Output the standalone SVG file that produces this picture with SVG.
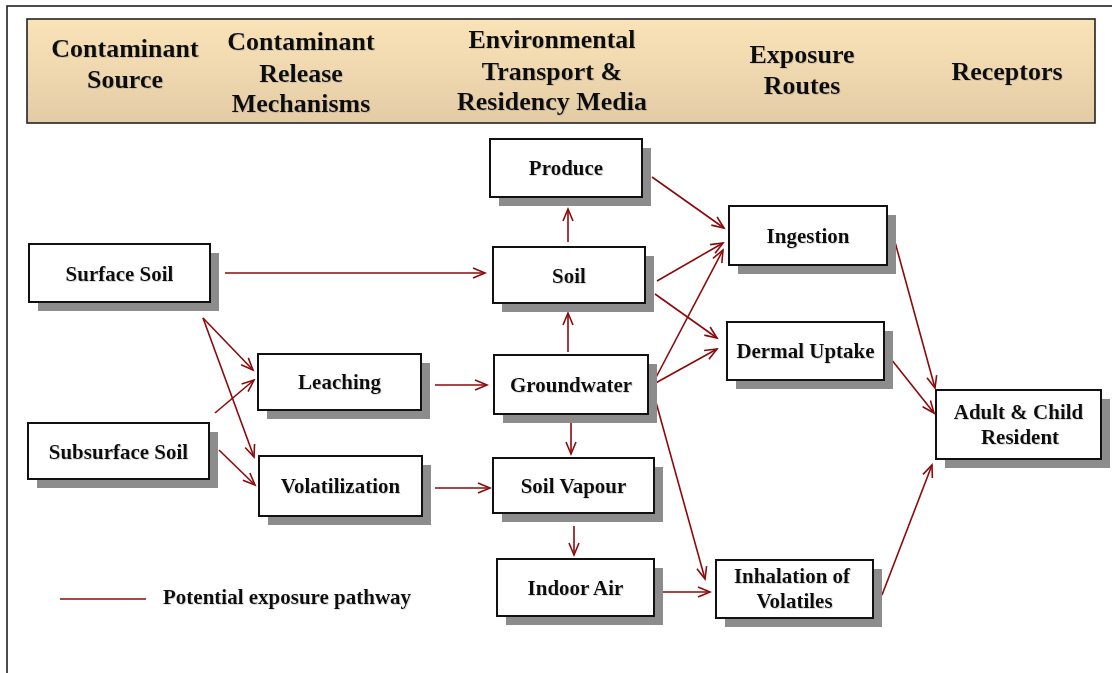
<svg xmlns="http://www.w3.org/2000/svg" width="1112" height="673" viewBox="0 0 1112 673">
  <defs>
    <linearGradient id="hdrFill" x1="0" y1="0" x2="0" y2="1">
      <stop offset="0" stop-color="#fbe3b8"/>
      <stop offset="1" stop-color="#e3cba6"/>
    </linearGradient>
    <filter id="txtShadow" x="-5%" y="-20%" width="110%" height="140%">
      <feDropShadow dx="1" dy="1" stdDeviation="0.3" flood-color="#888" flood-opacity="0.3"/>
    </filter>
    <marker id="arrow" markerUnits="userSpaceOnUse" markerWidth="16" markerHeight="14" refX="13" refY="6" orient="auto">
      <path d="M1,1 L13,6 L1,11" fill="none" stroke="#8b0a0a" stroke-width="1.6"/>
    </marker>
  </defs>
  <style>
    .hdr { font-family: "Liberation Serif", "Times New Roman", serif; font-weight: bold; font-size: 26px; fill: #111; text-anchor: middle; }
    .lbl { font-family: "Liberation Serif", "Times New Roman", serif; font-weight: bold; font-size: 21px; fill: #111; text-anchor: middle; }
    .box { fill: #ffffff; stroke: #111; stroke-width: 2; }
    .shadow { fill: #8c8c8c; }
    .link { stroke: #8b0a0a; stroke-width: 1.6; fill: none; marker-end: url(#arrow); }
    text { filter: url(#txtShadow); }
  </style>

  <rect width="1112" height="673" fill="#ffffff"/>
  <!-- page frame -->
  <rect x="7" y="6" width="1120" height="680" fill="none" stroke="#111" stroke-width="1.5"/>

  <!-- column header band -->
  <g id="header">
    <rect x="27" y="19" width="1068" height="104" fill="url(#hdrFill)" stroke="#222" stroke-width="1.6"/>
    <text class="hdr" x="125" y="57">Contaminant</text>
    <text class="hdr" x="125" y="88">Source</text>
    <text class="hdr" x="301" y="50">Contaminant</text>
    <text class="hdr" x="301" y="82">Release</text>
    <text class="hdr" x="301" y="112">Mechanisms</text>
    <text class="hdr" x="552" y="48">Environmental</text>
    <text class="hdr" x="552" y="80">Transport &amp;</text>
    <text class="hdr" x="552" y="110">Residency Media</text>
    <text class="hdr" x="802" y="63">Exposure</text>
    <text class="hdr" x="802" y="94">Routes</text>
    <text class="hdr" x="1007" y="80">Receptors</text>
  </g>

  <!-- connectors -->
  <g id="connectors">
    <line class="link" x1="225" y1="273" x2="485" y2="273"/>
    <line class="link" x1="203" y1="318" x2="253" y2="370"/>
    <line class="link" x1="203" y1="318" x2="254" y2="457"/>
    <line class="link" x1="215" y1="413" x2="254" y2="380"/>
    <line class="link" x1="219" y1="450" x2="255" y2="485"/>
    <line class="link" x1="435" y1="385" x2="487" y2="385"/>
    <line class="link" x1="435" y1="488" x2="490" y2="488"/>
    <line class="link" x1="568" y1="242" x2="568" y2="209"/>
    <line class="link" x1="568" y1="352" x2="568" y2="313"/>
    <line class="link" x1="571" y1="423" x2="571" y2="454"/>
    <line class="link" x1="574" y1="526" x2="574" y2="555"/>
    <line class="link" x1="652" y1="177" x2="724" y2="228"/>
    <line class="link" x1="657" y1="281" x2="723" y2="243"/>
    <line class="link" x1="655" y1="294" x2="717" y2="338"/>
    <line class="link" x1="652" y1="385" x2="723" y2="250"/>
    <line class="link" x1="652" y1="385" x2="717" y2="349"/>
    <line class="link" x1="654" y1="395" x2="705" y2="579"/>
    <line class="link" x1="663" y1="592" x2="710" y2="592"/>
    <line class="link" x1="895" y1="242" x2="935" y2="388"/>
    <line class="link" x1="891" y1="359" x2="934" y2="413"/>
    <line class="link" x1="882" y1="595" x2="932" y2="465"/>
  </g>

  <!-- source nodes -->
  <g id="surface-soil">
    <rect class="shadow" x="38" y="253" width="181" height="58"/>
    <rect class="box" x="29" y="244" width="181" height="58"/>
    <text class="lbl" x="119.5" y="281">Surface Soil</text>
  </g>
  <g id="subsurface-soil">
    <rect class="shadow" x="37" y="432" width="181" height="56"/>
    <rect class="box" x="28" y="423" width="181" height="56"/>
    <text class="lbl" x="118.5" y="459">Subsurface Soil</text>
  </g>

  <!-- release mechanisms -->
  <g id="leaching">
    <rect class="shadow" x="267" y="363" width="163" height="56"/>
    <rect class="box" x="258" y="354" width="163" height="56"/>
    <text class="lbl" x="339.5" y="389">Leaching</text>
  </g>
  <g id="volatilization">
    <rect class="shadow" x="268" y="465" width="163" height="60"/>
    <rect class="box" x="259" y="456" width="163" height="60"/>
    <text class="lbl" x="340.5" y="493">Volatilization</text>
  </g>

  <!-- transport media -->
  <g id="produce">
    <rect class="shadow" x="499" y="148" width="152" height="58"/>
    <rect class="box" x="490" y="139" width="152" height="58"/>
    <text class="lbl" x="566" y="175">Produce</text>
  </g>
  <g id="soil">
    <rect class="shadow" x="502" y="256" width="152" height="56"/>
    <rect class="box" x="493" y="247" width="152" height="56"/>
    <text class="lbl" x="569" y="283">Soil</text>
  </g>
  <g id="groundwater">
    <rect class="shadow" x="503" y="364" width="154" height="59"/>
    <rect class="box" x="494" y="355" width="154" height="59"/>
    <text class="lbl" x="571" y="392">Groundwater</text>
  </g>
  <g id="soil-vapour">
    <rect class="shadow" x="502" y="467" width="161" height="55"/>
    <rect class="box" x="493" y="458" width="161" height="55"/>
    <text class="lbl" x="573.5" y="493">Soil Vapour</text>
  </g>
  <g id="indoor-air">
    <rect class="shadow" x="506" y="568" width="157" height="57"/>
    <rect class="box" x="497" y="559" width="157" height="57"/>
    <text class="lbl" x="575.5" y="595">Indoor Air</text>
  </g>

  <!-- exposure routes -->
  <g id="ingestion">
    <rect class="shadow" x="738" y="215" width="158" height="59"/>
    <rect class="box" x="729" y="206" width="158" height="59"/>
    <text class="lbl" x="808" y="243">Ingestion</text>
  </g>
  <g id="dermal-uptake">
    <rect class="shadow" x="736" y="331" width="157" height="58"/>
    <rect class="box" x="727" y="322" width="157" height="58"/>
    <text class="lbl" x="805.5" y="358">Dermal Uptake</text>
  </g>
  <g id="inhalation">
    <rect class="shadow" x="725" y="569" width="157" height="58"/>
    <rect class="box" x="716" y="560" width="157" height="58"/>
    <text class="lbl" x="792" y="583">Inhalation of</text>
    <text class="lbl" x="794.5" y="608">Volatiles</text>
  </g>

  <!-- receptor -->
  <g id="adult-child-resident">
    <rect class="shadow" x="945" y="399" width="165" height="69"/>
    <rect class="box" x="936" y="390" width="165" height="69"/>
    <text class="lbl" x="1018.5" y="419">Adult &amp; Child</text>
    <text class="lbl" x="1020" y="444">Resident</text>
  </g>

  <!-- legend -->
  <g id="legend">
    <line x1="60" y1="599" x2="146" y2="599" stroke="#8b0a0a" stroke-width="1.6"/>
    <text class="lbl" x="163" y="604" style="text-anchor:start">Potential exposure pathway</text>
  </g>
</svg>
